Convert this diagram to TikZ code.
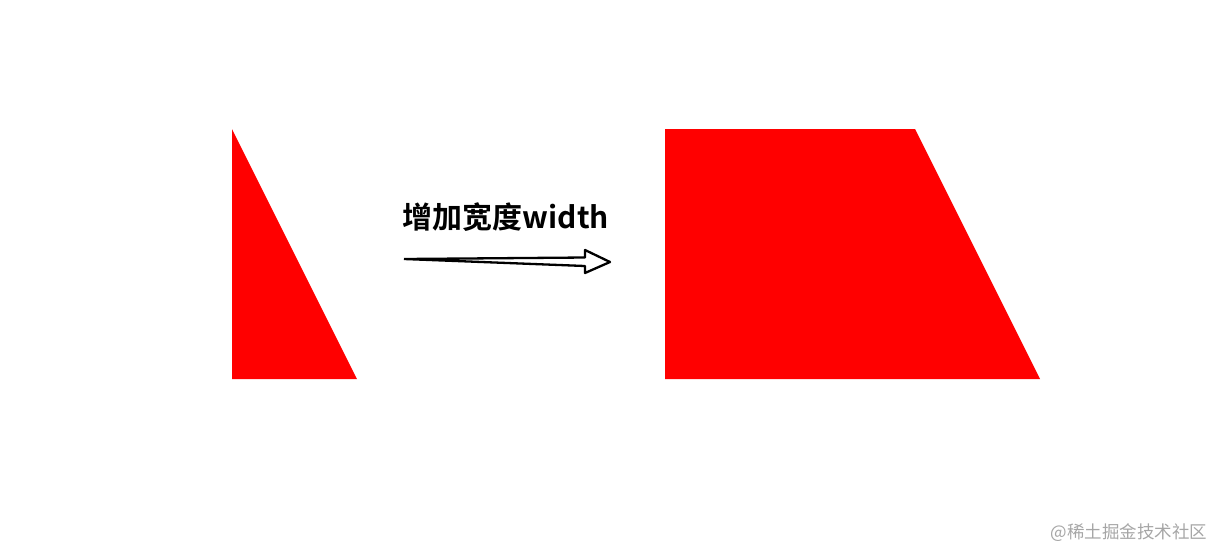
\documentclass[tikz,border=0pt]{standalone}
\usepackage{fontspec}
\newfontfamily\cjk{Noto Sans CJK SC}
\newfontfamily\cjkbold{Noto Sans CJK SC Bold}
\begin{document}
\begin{tikzpicture}[x=1pt,y=-1pt]
         \useasboundingbox (0,0) rectangle (1216,550);
         \fill[red] (232,129) -- (232,379) -- (357,379) -- cycle;
         \fill[red] (665,129) -- (915,129) -- (1040,379) -- (665,379) -- cycle;
         \node[font=\cjkbold\fontsize{30}{33}\selectfont] (label) at (506,217) {增加宽度width};
         \coordinate (tail) at (404,259);
         \coordinate (tip) at (610,262);
         \draw[line width=2.3pt,line join=round] (tail) -- (585,257.5) -- (585,250) -- (tip)
            -- (585,273) -- (585,266) -- (tail);
         \node[anchor=east,text=gray!70,font=\cjk\fontsize{17.5}{20}\selectfont] (mark) at (1211,533) {@稀土掘金技术社区};
      \end{tikzpicture}
\end{document}
